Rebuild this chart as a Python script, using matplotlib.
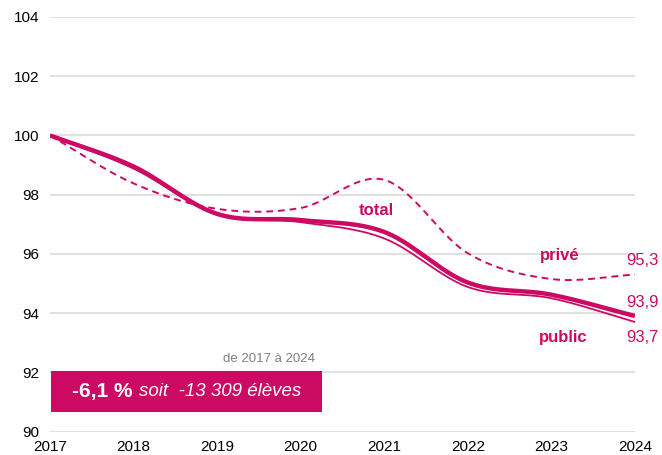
import numpy as np
import matplotlib
matplotlib.use("Agg")
import matplotlib.pyplot as plt
from matplotlib.patches import Rectangle

years = [2017, 2018, 2019, 2020, 2021, 2022, 2023, 2024]
total = [100.0, 98.95, 97.35, 97.14, 96.74, 95.03, 94.62, 93.9]
public = [100.0, 98.88, 97.33, 97.07, 96.52, 94.88, 94.50, 93.7]
prive = [100.0, 98.38, 97.52, 97.55, 98.50, 96.02, 95.15, 95.3]
yticks = [90, 92, 94, 96, 98, 100, 102, 104]
end_labels = ["95,3", "93,9", "93,7"]

COL = "#CC0A63"
plt.rcParams['font.family'] = ['Liberation Sans', 'DejaVu Sans']


def smooth(x, y, n=30):
    x = np.asarray(x, float)
    y = np.asarray(y, float)
    px = np.concatenate([[2 * x[0] - x[1]], x, [2 * x[-1] - x[-2]]])
    py = np.concatenate([[2 * y[0] - y[1]], y, [2 * y[-1] - y[-2]]])
    xs, ys = [], []
    for i in range(1, len(px) - 2):
        t = np.linspace(0, 1, n, endpoint=False)
        for arr, out in ((px, xs), (py, ys)):
            p0, p1, p2, p3 = arr[i - 1], arr[i], arr[i + 1], arr[i + 2]
            out.extend(0.5 * ((2 * p1) + (-p0 + p2) * t +
                              (2 * p0 - 5 * p1 + 4 * p2 - p3) * t ** 2 +
                              (-p0 + 3 * p1 - 3 * p2 + p3) * t ** 3))
    xs.append(x[-1])
    ys.append(y[-1])
    return np.array(xs), np.array(ys)


fig = plt.figure(figsize=(6.62, 4.55), dpi=100)
ax = fig.add_axes([50 / 662, 1 - 431.5 / 455, 585 / 662, (431.5 - 17) / 455])

ax.set_xlim(2017, 2024)
ax.set_ylim(90, 104)
ax.set_yticks(yticks)
ax.set_yticklabels([str(v) for v in yticks])
ax.set_xticks(years)
ax.set_xticklabels([str(v) for v in years])
ax.grid(axis='y', color='#E0E0E0', linewidth=1.5)
ax.set_axisbelow(True)
for s in ax.spines.values():
    s.set_visible(False)
ax.tick_params(length=0, labelsize=11, colors='black')
ax.tick_params(axis='y', pad=8)
ax.tick_params(axis='x', pad=6)

xs, ys = smooth(years, prive)
ax.plot(xs, ys, color=COL, lw=1.4, ls=(0, (3.5, 2.5)), zorder=3)
xs, ys = smooth(years, total)
ax.plot(xs, ys, color=COL, lw=3.2, zorder=4, solid_capstyle='butt')
xs, ys = smooth(years, public)
ax.plot(xs, ys, color=COL, lw=1.3, zorder=5)

ax.text(2020.91, 97.48, "total", color=COL, fontsize=12, fontweight='bold',
        ha='center', va='center')
ax.text(2023.1, 95.96, "privé", color=COL, fontsize=12, fontweight='bold',
        ha='center', va='center')
ax.text(2023.14, 93.16, "public", color=COL, fontsize=12, fontweight='bold',
        ha='center', va='center')

ax.text(2023.89, 95.79, end_labels[0], color=COL, fontsize=12, ha='left', va='center')
ax.text(2023.89, 94.37, end_labels[1], color=COL, fontsize=12, ha='left', va='center')
ax.text(2023.89, 93.16, end_labels[2], color=COL, fontsize=12, ha='left', va='center')

# summary box
box = Rectangle((51 / 662, 1 - 412 / 455), 271 / 662, 41 / 455, transform=fig.transFigure,
                facecolor=COL, edgecolor='none', zorder=6)
fig.patches.append(box)
fig.text(315 / 662, 1 - 359 / 455, "de 2017 à 2024", color='#808080', fontsize=9.5,
         ha='right', va='center')
yb = 1 - 392 / 455
fig.text(72 / 662, yb, "-6,1 %", color='white', fontsize=15, fontweight='bold',
         ha='left', va='center', zorder=7)
fig.text(139 / 662, yb, "soit  -13 309 élèves", color='white', fontsize=13.5, style='italic',
         ha='left', va='center', zorder=7)

fig.savefig("out.png", dpi=100)
